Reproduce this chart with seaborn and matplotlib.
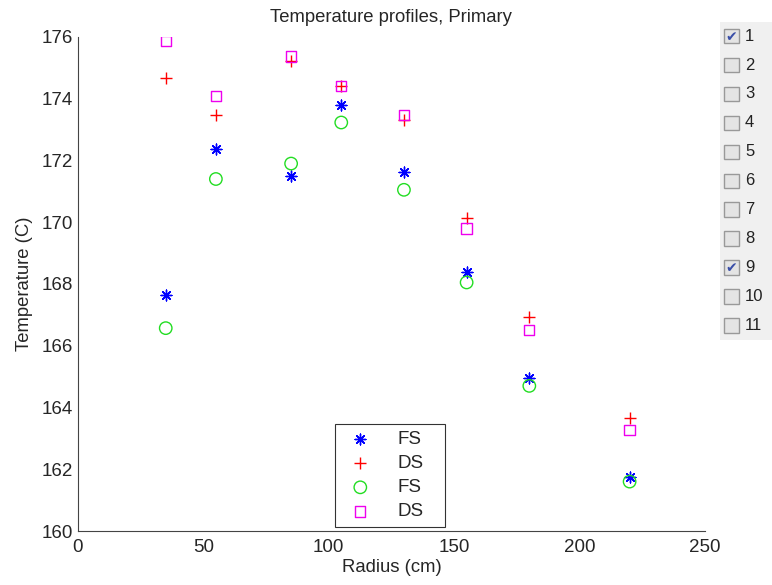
#!/usr/bin/env python3
# Temperature profiles (primary) - radius vs temperature, FS/DS for two runs

import numpy as np
import pandas as pd
import seaborn as sns
import matplotlib
matplotlib.use("Agg")
import matplotlib.pyplot as plt
from matplotlib.patches import Rectangle

radius = [35, 55, 85, 105, 130, 155, 180, 220]
fs_1 = [167.63, 172.37, 171.50, 173.80, 171.62, 168.40, 164.95, 161.75]
ds_1 = [174.67, 173.47, 175.22, 174.42, 173.32, 170.15, 166.93, 163.65]
fs_9 = [166.57, 171.40, 171.90, 173.23, 171.05, 168.05, 164.70, 161.60]
ds_9 = [175.87, 174.09, 175.37, 174.42, 173.48, 169.80, 166.50, 163.27]
series_labels = ["FS", "DS", "FS", "DS"]
run_labels = [str(i) for i in range(1, 12)]
checked = ["1", "9"]

sns.set_style("white")
plt.rcParams["font.family"] = ["Liberation Sans", "DejaVu Sans"]

fig = plt.figure(figsize=(7.72, 5.85), dpi=100)
ax = fig.add_axes([0.101, 0.0923, 0.812, 0.8445])

styles = [
    dict(marker=(8, 2, 0), color="#0000ff", s=60, linewidths=1.0),
    dict(marker="+", color="#ff0000", s=80, linewidths=1.0),
    dict(marker="o", facecolors="none", edgecolors="#22dd22", s=80, linewidths=1.0),
    dict(marker="s", facecolors="none", edgecolors="#ee00ee", s=55, linewidths=1.0),
]
for vals, lab, st in zip([fs_1, ds_1, fs_9, ds_9], series_labels, styles):
    df = pd.DataFrame({"r": radius, "t": vals})
    sns.scatterplot(data=df, x="r", y="t", ax=ax, label=lab, **st)

ax.set_xlim(0, 250)
ax.set_ylim(160, 176)
ax.set_xticks(np.arange(0, 251, 50))
ax.set_yticks(np.arange(160, 177, 2))
ax.tick_params(direction="in", length=4, labelsize=13.5, color="#444444")
ax.tick_params(axis="x", pad=6)
for side in ["top", "right"]:
    ax.spines[side].set_visible(False)
for side in ["left", "bottom"]:
    ax.spines[side].set_color("#444444")
ax.set_xlabel("Radius (cm)", fontsize=13.3, labelpad=2)
ax.set_ylabel("Temperature (C)", fontsize=13.3, labelpad=6)
ax.set_title("Temperature profiles, Primary", fontsize=13.3, pad=11)

leg = ax.legend(loc="lower left", bbox_to_anchor=(0.41, 0.008, 0.1754, 0.2),
                mode="expand", fontsize=13.5,
                frameon=True, fancybox=False, edgecolor="black",
                handletextpad=1.0, borderpad=0.35, labelspacing=0.38,
                handlelength=2.0, borderaxespad=0.0)
leg.get_frame().set_linewidth(0.8)

# checkbox panel on the right
pax = fig.add_axes([0.933, 0.419, 0.067, 0.544])
pax.set_xlim(0, 1)
pax.set_ylim(len(run_labels), 0)
pax.set_facecolor("#f0f0f0")
for sp in pax.spines.values():
    sp.set_visible(False)
pax.set_xticks([])
pax.set_yticks([])
for i, lab in enumerate(run_labels):
    yc = i + 0.5
    pax.add_patch(Rectangle((0.08, yc - 0.25), 0.28, 0.5, facecolor="#e4e4e4",
                            edgecolor="#999999", linewidth=1.0))
    if lab in checked:
        pax.text(0.22, yc + 0.03, "\u2714", ha="center", va="center",
                 color="#3a4fa8", fontsize=10, family="DejaVu Sans")
    pax.text(0.48, yc, lab, ha="left", va="center", fontsize=12, color="#222222")

fig.savefig("out.png", dpi=100)
